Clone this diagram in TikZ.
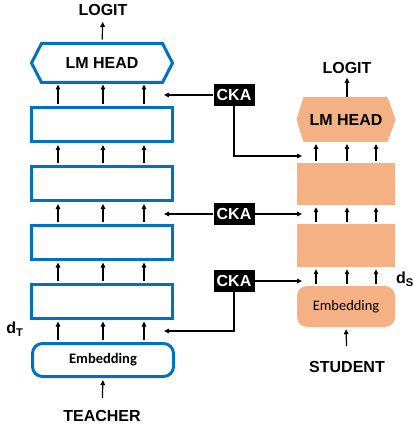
\documentclass[tikz,border=0pt]{standalone}
\usepackage{fontspec}
\setmainfont{Liberation Sans}
\newfontfamily\calfont{Carlito}
\usetikzlibrary{arrows.meta}
\definecolor{tblue}{HTML}{0070C0}
\definecolor{sorange}{HTML}{F4B183}
\begin{document}
\begin{tikzpicture}[x=1pt,y=-1pt,
  lbl/.style={font=\fontsize{16}{18}\selectfont\bfseries, inner sep=0pt},
  tbox/.style={draw=tblue, line width=3pt, minimum width=141pt, minimum height=34pt, inner sep=0pt},
  sbox/.style={fill=sorange, minimum width=98pt, inner sep=0pt},
  hexnode/.style={inner sep=0pt, outer sep=0pt, font=\fontsize{16}{18}\selectfont\bfseries},
  ckabox/.style={fill=black, text=white, font=\fontsize{16}{18}\selectfont\bfseries, minimum width=41pt, minimum height=22pt, inner sep=0pt},
  arr/.style={-{Triangle[length=5pt,width=4.5pt]}, line width=1.2pt},
  uparr/.style={arr, shorten <=2pt, shorten >=2pt},
]
\useasboundingbox (0,0) rectangle (413,427);

% ---------- teacher ----------
\node[hexnode, minimum width=141pt, minimum height=39pt] (tlm) at (102,63) {LM HEAD};
\draw[tblue, line width=3pt] (tlm.west) -- ([xshift=10pt]tlm.north west) -- ([xshift=-10pt]tlm.north east)
  -- (tlm.east) -- ([xshift=-10pt]tlm.south east) -- ([xshift=10pt]tlm.south west) -- cycle;
\node[tbox] (tb1) at (102,124.5) {};
\node[tbox] (tb2) at (102,183.5) {};
\node[tbox] (tb3) at (102,242) {};
\node[tbox] (tb4) at (102,301) {};
\node[tbox, minimum height=33pt, rounded corners=10pt, font=\calfont\fontsize{14.5}{16}\selectfont\bfseries] (temb) at (103,360) {Embedding};
\node[lbl] (tlogit) at (103,10) {LOGIT};
\node[lbl] (teacher) at (102,416) {TEACHER};
\node[lbl, anchor=center] (dt) at (15,329) {d\textsubscript{T}};

\coordinate (tx1) at (58,0);
\coordinate (tx2) at (103,0);
\coordinate (tx3) at (144,0);
\foreach \lo/\hi in {tb1/tlm,tb2/tb1,tb3/tb2,tb4/tb3,temb/tb4}{
  \foreach \xx in {tx1,tx2,tx3}{
    \draw[uparr] (\lo.north -| \xx) -- (\hi.south -| \xx);
  }
}
\draw[arr, shorten <=4pt, shorten >=6pt] (tlm.north) -- (tlogit.south);
\draw[arr, shorten <=12pt, shorten >=2pt] (teacher.north) -- (temb.south);

% ---------- student ----------
\node[hexnode, minimum width=99pt, minimum height=45pt] (slm) at (346,119.5) {};
\fill[sorange] (slm.west) -- ([xshift=7pt]slm.north west) -- ([xshift=-8pt]slm.north east)
  -- (slm.east) -- ([xshift=-8pt]slm.south east) -- ([xshift=7pt]slm.south west) -- cycle;
\node[hexnode] at (slm.center) {LM HEAD};
\node[sbox, minimum height=42pt] (sb1) at (346,184) {};
\node[sbox, minimum height=43pt] (sb2) at (346,245.5) {};
\node[sbox, minimum height=41pt, rounded corners=10pt, font=\calfont\fontsize{14.5}{16}\selectfont] (semb) at (346,306.5) {Embedding};
\node[lbl] (slogit) at (347,68) {LOGIT};
\node[lbl] (student) at (347,367) {STUDENT};
\node[lbl, anchor=west] (ds) at (396,279) {d\textsubscript{S}};

\coordinate (sx1) at (316,0);
\coordinate (sx2) at (347,0);
\coordinate (sx3) at (376,0);
\foreach \lo/\hi in {sb1/slm,sb2/sb1,semb/sb2}{
  \foreach \xx in {sx1,sx2,sx3}{
    \draw[uparr] (\lo.north -| \xx) -- (\hi.south -| \xx);
  }
}
\draw[arr, shorten >=4pt] (slm.north -| sx2) -- (slogit.south);
\draw[arr, shorten <=15pt, shorten >=2pt] (student.north) -- (semb.south);

% ---------- CKA ----------
\node[ckabox] (cka1) at (234,95) {CKA};
\node[ckabox] (cka2) at (234,214) {CKA};
\node[ckabox] (cka3) at (234,281) {CKA};

\coordinate (tc1) at (164,95);
\coordinate (tc2) at (164,214);
\coordinate (tc3) at (164,331);
\coordinate (sc1) at (302,156);
\coordinate (sc2) at (302,214);
\coordinate (sc3) at (302,281);

\draw[arr] (cka1.west) -- (tc1);
\draw[arr] (cka1.south) |- (sc1);
\draw[arr] (cka2.west) -- (tc2);
\draw[arr] (cka2.east) -- (sc2);
\draw[arr] (cka3.east) -- (sc3);
\draw[arr] (cka3.south) |- (tc3);
\end{tikzpicture}
\end{document}
